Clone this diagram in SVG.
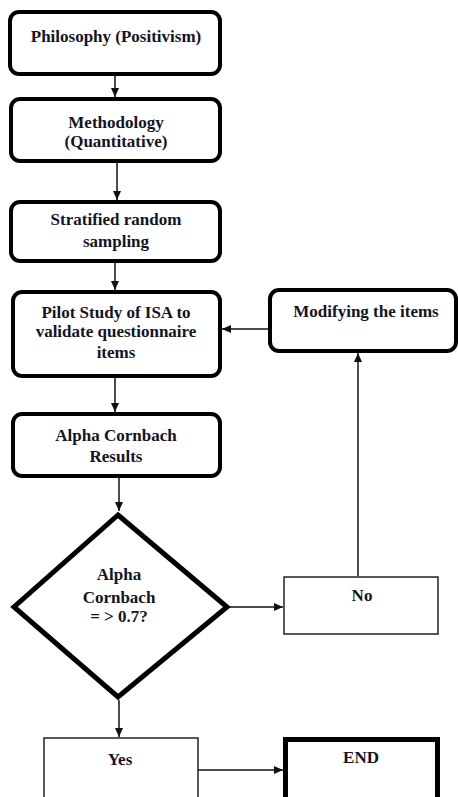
<svg xmlns="http://www.w3.org/2000/svg" width="458" height="797" viewBox="0 0 458 797">
<defs>
<marker id="ah" markerUnits="userSpaceOnUse" markerWidth="9" markerHeight="8" refX="9" refY="4" orient="auto">
<path d="M0,0 L9,4 L0,8 Z" fill="#111"/>
</marker>
<style>
.rb{fill:#fff;stroke:#000;stroke-width:4}
.thin{fill:#fff;stroke:#222;stroke-width:1.5}
.dia{fill:#fff;stroke:#000;stroke-width:5;stroke-linejoin:miter}
.end{fill:#fff;stroke:#000;stroke-width:5}
.t{font-family:"Liberation Serif","Times New Roman",serif;font-weight:bold;font-size:17px;fill:#141424;text-anchor:middle}
.c{fill:none;stroke:#111;stroke-width:1.5;marker-end:url(#ah)}
</style>
</defs>
<rect width="458" height="797" fill="#fff"/>
<g id="connectors">
<line class="c" x1="115" y1="76" x2="115" y2="97"/>
<line class="c" x1="117" y1="163" x2="117" y2="200"/>
<line class="c" x1="115" y1="263" x2="115" y2="290"/>
<line class="c" x1="268" y1="329" x2="222" y2="329"/>
<line class="c" x1="115" y1="378" x2="115" y2="412"/>
<line class="c" x1="119" y1="478" x2="119" y2="511"/>
<line class="c" x1="230" y1="607" x2="283" y2="607"/>
<line class="c" x1="358" y1="576" x2="358" y2="353"/>
<line class="c" x1="119" y1="700" x2="119" y2="737"/>
<line class="c" x1="198" y1="770" x2="283" y2="770"/>
</g>
<g id="philosophy">
<rect class="rb" x="10" y="12" width="210" height="62" rx="9"/>
<text class="t" x="116" y="42">Philosophy (Positivism)</text>
</g>
<g id="methodology">
<rect class="rb" x="11" y="99" width="209" height="62" rx="9"/>
<text class="t" x="116" y="128">Methodology</text>
<text class="t" x="116" y="147">(Quantitative)</text>
</g>
<g id="sampling">
<rect class="rb" x="11" y="202" width="209" height="59" rx="9"/>
<text class="t" x="116" y="225">Stratified random</text>
<text class="t" x="116" y="247">sampling</text>
</g>
<g id="pilot">
<rect class="rb" x="13" y="292" width="207" height="84" rx="9"/>
<text class="t" x="116" y="318">Pilot Study of ISA to</text>
<text class="t" x="116" y="337">validate questionnaire</text>
<text class="t" x="116" y="358">items</text>
</g>
<g id="modifying">
<rect class="rb" x="270" y="290" width="186" height="61" rx="9"/>
<text class="t" x="366" y="317">Modifying the items</text>
</g>
<g id="alpha-results">
<rect class="rb" x="13" y="414" width="207" height="62" rx="9"/>
<text class="t" x="116" y="441">Alpha Cornbach</text>
<text class="t" x="116" y="462">Results</text>
</g>
<g id="decision">
<polygon class="dia" points="118,515 227,607 118,697 14,607"/>
<text class="t" x="119" y="580">Alpha</text>
<text class="t" x="119" y="603">Cornbach</text>
<text class="t" x="119" y="622">= &gt; 0.7?</text>
</g>
<g id="no">
<rect class="thin" x="284" y="577" width="154" height="57"/>
<text class="t" x="362" y="601">No</text>
</g>
<g id="yes">
<rect class="thin" x="44" y="738" width="154" height="70"/>
<text class="t" x="120" y="765">Yes</text>
</g>
<g id="end">
<rect class="end" x="285.5" y="739.5" width="152" height="70"/>
<text class="t" x="361" y="763">END</text>
</g>
</svg>
